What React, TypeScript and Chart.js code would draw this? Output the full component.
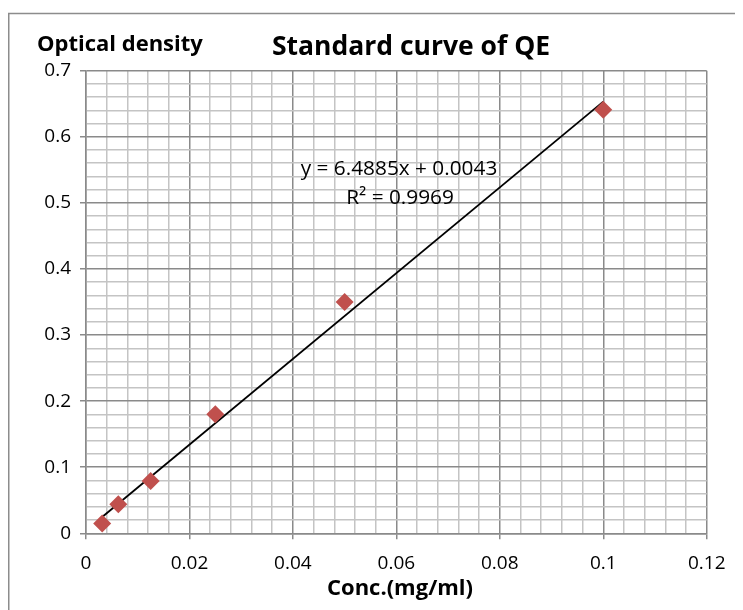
import React, { useEffect, useRef } from "react";
import { Chart, registerables } from "chart.js";

Chart.register(...registerables);

const concentrations = [0.003125, 0.00625, 0.0125, 0.025, 0.05, 0.1];
const densities = [0.015, 0.044, 0.079, 0.18, 0.35, 0.641];
const trendSlope = 6.4885;
const trendIntercept = 0.0043;
const equationText = "y = 6.4885x + 0.0043";
const r2Text = "R² = 0.9969";
const chartTitle = "Standard curve of QE";
const yAxisTitle = "Optical density";
const xAxisTitle = "Conc.(mg/ml)";

const FONT = "'Open Sans', 'Noto Sans', sans-serif";
const MAJOR = "#8a8a8a";
const MINOR = "#c4c4c4";

const isMult = (v: number, step: number) =>
  Math.abs(v / step - Math.round(v / step)) < 1e-6;

export default function App() {
  const ref = useRef<HTMLCanvasElement | null>(null);
  useEffect(() => {
    if (!ref.current) return;
    const x0 = concentrations[0];
    const x1 = concentrations[concentrations.length - 1];
    const trend = [
      { x: x0, y: trendSlope * x0 + trendIntercept },
      { x: x1, y: trendSlope * x1 + trendIntercept },
    ];
    const decor = {
      id: "decor",
      beforeDraw(chart: any) {
        const ctx = chart.ctx;
        ctx.save();
        ctx.strokeStyle = "#8c8c8c";
        ctx.lineWidth = 1.5;
        ctx.strokeRect(0.75, 5.5, chart.width + 20, chart.height + 20);
        ctx.restore();
      },
      afterDraw(chart: any) {
        const ctx = chart.ctx;
        ctx.save();
        ctx.fillStyle = "#000";
        ctx.textBaseline = "middle";
        ctx.textAlign = "center";
        ctx.font = `bold 26.5px ${FONT}`;
        ctx.fillText(chartTitle, 403, 39);
        ctx.textAlign = "left";
        ctx.font = `bold 22px ${FONT}`;
        ctx.fillText(yAxisTitle, 29, 37);
        ctx.textAlign = "center";
        ctx.font = `bold 22px ${FONT}`;
        ctx.fillText(xAxisTitle, 392, 581);
        ctx.font = `20.8px ${FONT}`;
        ctx.fillText(equationText, 391, 161);
        ctx.fillText(r2Text, 392, 190);
        ctx.restore();
      },
    };
    const chart = new Chart(ref.current, {
      type: "scatter",
      data: {
        datasets: [
          {
            type: "line",
            data: trend,
            borderColor: "#000",
            borderWidth: 1.8,
            pointRadius: 0,
            fill: false,
            order: 2,
          } as any,
          {
            data: concentrations.map((c, i) => ({ x: c, y: densities[i] })),
            backgroundColor: "#C0504D",
            borderColor: "#C0504D",
            pointStyle: "rectRot",
            pointRadius: 9,
            pointBorderWidth: 0,
            order: 1,
          } as any,
        ],
      },
      plugins: [decor],
      options: {
        animation: false,
        responsive: true,
        maintainAspectRatio: false,
        layout: { padding: { left: 0, right: 36.3, top: 62.7, bottom: 0 } },
        plugins: {
          legend: { display: false },
          tooltip: { enabled: false },
          title: { display: false },
        },
        scales: {
          x: {
            type: "linear",
            min: 0,
            max: 0.12,
            afterFit(scale: any) {
              scale.height = 76.7;
            },
            border: { display: true, color: MAJOR, width: 1.5 },
            grid: {
              drawTicks: true,
              tickLength: 6,
              color: (c: any) => (isMult(c.tick?.value ?? 0, 0.02) ? MAJOR : MINOR),
              lineWidth: 1.5,
              tickColor: (c: any) =>
                isMult(c.tick?.value ?? 0, 0.02) ? MAJOR : "rgba(0,0,0,0)",
            },
            ticks: {
              stepSize: 0.004,
              autoSkip: false,
              maxRotation: 0,
              minRotation: 0,
              padding: 13,
              color: "#000",
              font: { family: FONT, size: 19 },
              callback: (v: any) =>
                isMult(Number(v), 0.02) ? String(Math.round(Number(v) * 100) / 100) : "",
            },
          },
          y: {
            type: "linear",
            min: 0,
            max: 0.7,
            afterFit(scale: any) {
              scale.width = 78;
            },
            border: { display: true, color: MAJOR, width: 1.5 },
            grid: {
              drawTicks: true,
              tickLength: 6,
              color: (c: any) => (isMult(c.tick?.value ?? 0, 0.1) ? MAJOR : MINOR),
              lineWidth: 1.5,
              tickColor: (c: any) =>
                isMult(c.tick?.value ?? 0, 0.1) ? MAJOR : "rgba(0,0,0,0)",
            },
            ticks: {
              stepSize: 0.02,
              autoSkip: false,
              padding: 9,
              color: "#000",
              font: { family: FONT, size: 19 },
              callback: (v: any) =>
                isMult(Number(v), 0.1) ? String(Math.round(Number(v) * 10) / 10) : "",
            },
          },
        },
      } as any,
    });
    return () => chart.destroy();
  }, []);
  return (
    <div style={{ width: 735, height: 602, position: "relative" }}>
      <canvas ref={ref} />
    </div>
  );
}
